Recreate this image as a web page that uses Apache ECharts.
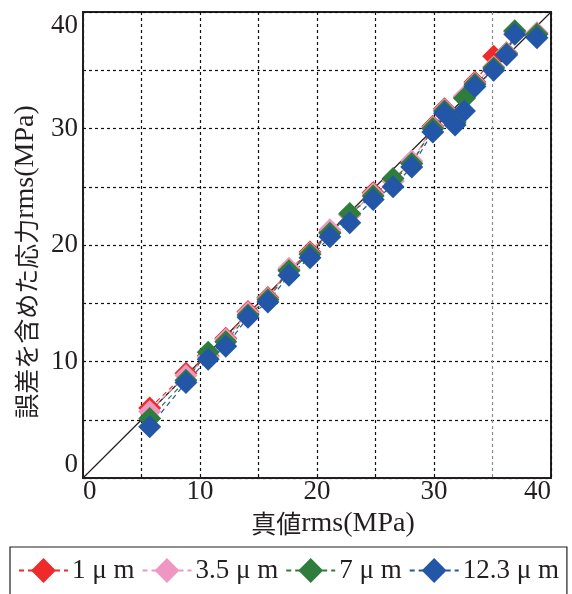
<!DOCTYPE html>
<html>
<head>
<meta charset="utf-8">
<script src="https://cdn.jsdelivr.net/npm/echarts@6/dist/echarts.min.js"></script>
<style>
  html, body { margin: 0; padding: 0; background: #fff; }
  #chart { width: 572px; height: 594px; }
</style>
</head>
<body>
<div id="chart"></div>
<script>
// True rms stress (MPa) shared by every series
const trueRms = [5.7, 8.8, 10.7, 12.2, 14.1, 15.8, 17.6, 19.4, 21.1, 22.8, 24.8, 26.5, 28.1, 29.9, 30.9, 31.8, 32.6, 33.5, 35.1, 36.2, 36.9, 38.8];

// rms stress including error (MPa), one list per gauge size
const rms1um   = [6.0, 9.0, 10.5, 12.0, 14.3, 15.5, 17.9, 19.4, 21.1, 22.6, 24.5, 25.5, 27.0, 30.2, 31.7, 30.6, 32.7, 34.0, 36.2, 36.5, 38.3, 38.2];
const rms3p5um = [5.7, 8.8, 10.4, 11.9, 14.2, 15.4, 18.0, 19.3, 21.3, 22.6, 24.4, 25.5, 27.2, 30.1, 31.6, 30.6, 32.8, 33.9, 35.3, 36.5, 38.3, 38.2];
const rms7um   = [5.1, 8.4, 10.8, 11.7, 14.0, 15.3, 17.8, 19.2, 21.0, 22.7, 24.2, 25.7, 27.0, 30.0, 31.5, 30.5, 32.6, 33.8, 35.2, 36.4, 38.4, 38.1];
const rms12um  = [4.4, 8.2, 10.2, 11.3, 13.8, 15.1, 17.4, 18.9, 20.7, 21.9, 23.9, 25.0, 26.7, 29.7, 31.3, 30.3, 31.5, 33.6, 35.0, 36.3, 38.1, 37.8];

const seriesNames  = ['1 μ m', '3.5 μ m', '7 μ m', '12.3 μ m'];
const seriesValues = [rms1um, rms3p5um, rms7um, rms12um];
const seriesColors = ['#ee2a2a', '#f096c2', '#2f7d3d', '#2356a6'];

// Axis range and ticks
const axisMin = 0, axisMax = 40, gridStep = 5, labelStep = 10;
const refLine = [[0, 0], [40, 40]];

const serif = 'Liberation Serif';
const gothic = 'Noto Sans CJK JP';
const ink = '#231f20';

const chart = echarts.init(document.getElementById('chart'));

function axisCommon() {
  return {
    type: 'value',
    min: axisMin,
    max: axisMax,
    interval: gridStep,
    axisLine: { show: true, onZero: false, lineStyle: { color: ink, width: 2 } },
    axisTick: { show: false },
    splitLine: { show: true, lineStyle: { color: '#111', type: [3, 3], width: 1.2 } },
    axisLabel: {
      color: ink,
      fontFamily: serif,
      fontSize: 27,
      formatter: v => (v % labelStep === 0 ? String(v) : '')
    }
  };
}

const xAxis = axisCommon();
// the vertical line at 35 is printed lighter
xAxis.splitLine.lineStyle.color = ['#111', '#111', '#111', '#111', '#111', '#111', '#111', '#8a8a8a', '#111'];
xAxis.axisLabel.margin = 0;
xAxis.axisLabel.alignMinLabel = 'left';
xAxis.axisLabel.alignMaxLabel = 'right';
xAxis.name = '{jp|真値}{en|rms(MPa)}';
xAxis.nameLocation = 'middle';
xAxis.nameGap = 30;
xAxis.nameTextStyle = {
  padding: [0, 0, 0, 32],
  rich: {
    jp: { fontFamily: gothic, fontSize: 25, color: ink },
    en: { fontFamily: serif, fontSize: 28, color: ink }
  }
};

const yAxis = axisCommon();
yAxis.axisLabel.margin = 5;
yAxis.axisLabel.verticalAlignMinLabel = 'bottom';
yAxis.axisLabel.verticalAlignMaxLabel = 'top';
yAxis.name = '{jp|誤差を含めた応力}{en|rms(MPa)}';
yAxis.nameLocation = 'middle';
yAxis.nameGap = 40;
yAxis.nameTextStyle = {
  padding: [0, 34, 0, 0],
  rich: {
    jp: { fontFamily: gothic, fontSize: 25, color: ink },
    en: { fontFamily: serif, fontSize: 28, color: ink }
  }
};

const series = [{
  name: 'y=x',
  type: 'line',
  data: refLine,
  showSymbol: false,
  silent: true,
  lineStyle: { color: ink, width: 1.2 },
  z: 1
}];

seriesNames.forEach((name, i) => {
  series.push({
    name,
    type: 'line',
    data: trueRms.map((x, k) => [x, seriesValues[i][k]]),
    symbol: 'diamond',
    symbolSize: 23,
    color: seriesColors[i],
    itemStyle: { color: seriesColors[i] },
    lineStyle: { color: seriesColors[i], width: 1.2, type: [5, 4] },
    z: 2
  });
});

chart.setOption({
  animation: false,
  backgroundColor: '#fff',
  grid: {
    left: 83, right: 21, top: 12, bottom: 116,
    show: true, borderColor: ink, borderWidth: 2, backgroundColor: 'transparent'
  },
  xAxis,
  yAxis,
  legend: {
    data: seriesNames,
    left: 10,
    top: 547,
    width: 550,
    padding: [10, 8, 30, 8],
    itemGap: 7,
    itemWidth: 49,
    itemHeight: 31,
    borderColor: ink,
    borderWidth: 1.2,
    textStyle: { fontFamily: serif, fontSize: 27, color: ink, padding: [0, 0, 0, -1] }
  },
  series
});
</script>
</body>
</html>
